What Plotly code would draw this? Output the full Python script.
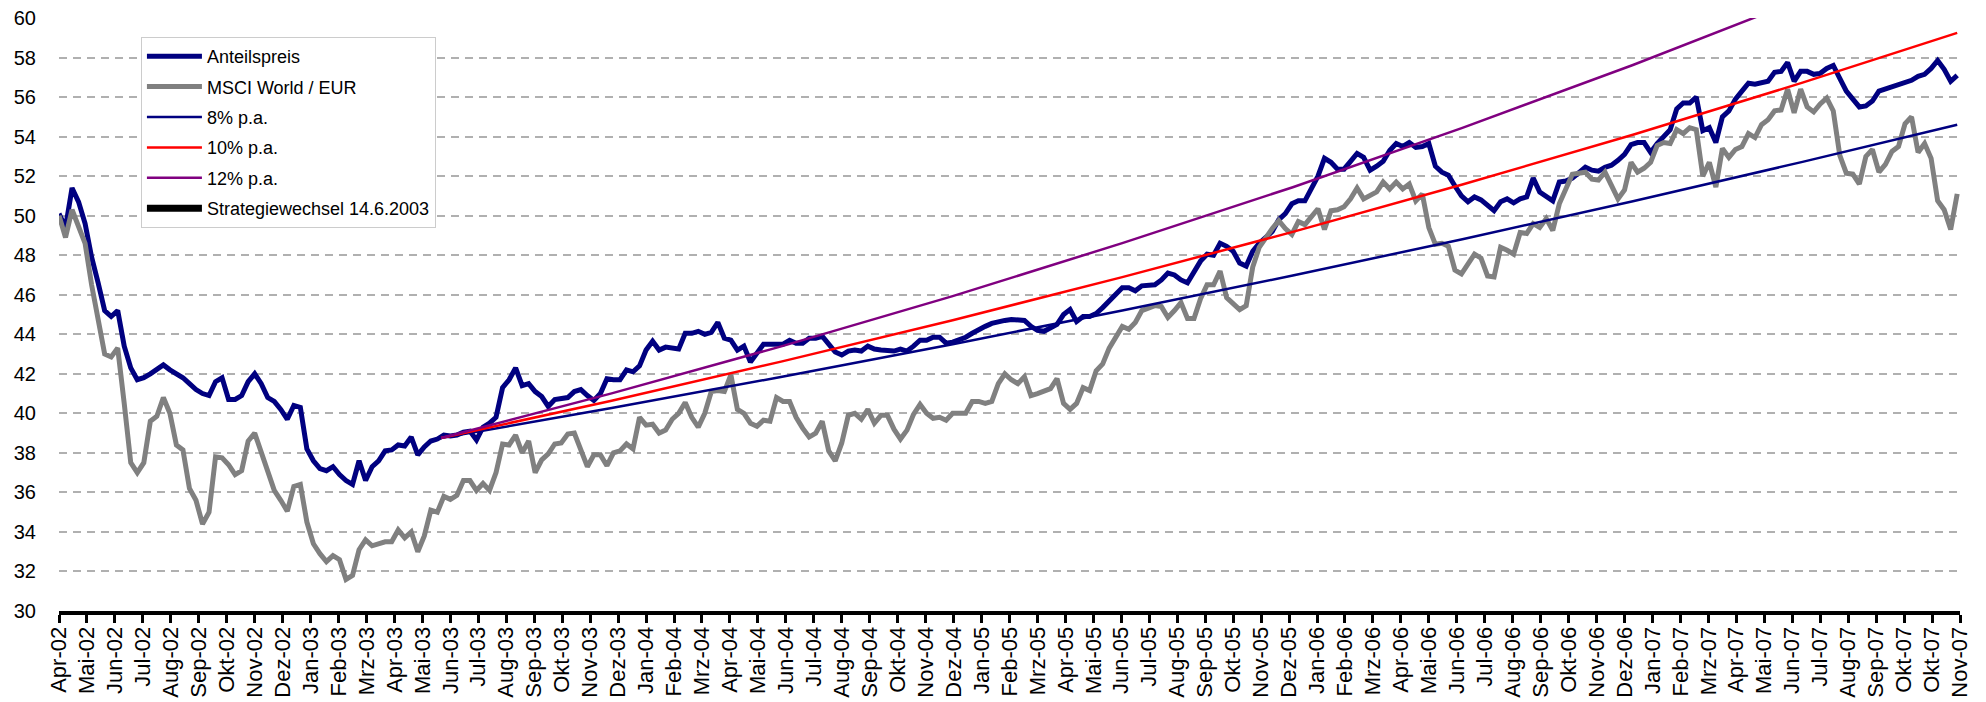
import pandas as pd
import plotly.graph_objects as go

# ---------------- data (weekly values) ----------------
start_date = "2002-04-30"

anteilspreis = [
    50.1, 49.4, 51.4, 50.7, 49.6, 47.9, 46.6, 45.2, 44.9, 45.2,
    43.4, 42.3, 41.7, 41.8, 42.0, 42.2, 42.45, 42.2, 42.0, 41.8,
    41.5, 41.2, 41.0, 40.9, 41.6, 41.8, 40.7, 40.7, 40.9, 41.6,
    42.0, 41.5, 40.8, 40.6, 40.2, 39.7, 40.4, 40.3, 38.2, 37.6,
    37.2, 37.1, 37.3, 36.9, 36.6, 36.4, 37.6, 36.6, 37.3, 37.6,
    38.1, 38.15, 38.4, 38.35, 38.8, 37.9, 38.3, 38.6, 38.7, 38.9,
    38.85, 38.9, 39.05, 39.1, 38.65, 39.3, 39.5, 39.8, 41.3, 41.7,
    42.3, 41.4, 41.5, 41.1, 40.85, 40.35, 40.7, 40.75, 40.8, 41.1,
    41.2, 40.9, 40.65, 41.0, 41.75, 41.7, 41.7, 42.2, 42.1, 42.4,
    43.2, 43.65, 43.2, 43.35, 43.3, 43.25, 44.05, 44.05, 44.15, 44.0,
    44.1, 44.6, 43.8, 43.7, 43.2, 43.4, 42.6, 43.1, 43.5, 43.5,
    43.48, 43.5, 43.7, 43.55, 43.55, 43.8, 43.8, 43.9, 43.5, 43.1,
    42.95, 43.15, 43.2, 43.15, 43.4, 43.25, 43.2, 43.2, 43.15, 43.25,
    43.15, 43.4, 43.7, 43.7, 43.85, 43.85, 43.55, 43.6, 43.7, 43.85,
    44.05, 44.25, 44.4, 44.55, 44.65, 44.7, 44.75, 44.75, 44.7, 44.4,
    44.2, 44.15, 44.3, 44.5, 45.0, 45.25, 44.65, 44.9, 44.9, 45.05,
    45.35, 45.7, 46.0, 46.35, 46.35, 46.2, 46.45, 46.45, 46.5, 46.75,
    47.1, 47.0, 46.75, 46.6, 47.2, 47.7, 48.05, 48.0, 48.6, 48.45,
    48.2, 47.6, 47.45, 48.2, 48.6, 48.9, 49.2, 49.8, 50.1, 50.6,
    50.75, 50.75, 51.35, 52.0, 52.9, 52.7, 52.35, 52.35, 52.75, 53.15,
    52.95, 52.3, 52.5, 52.75, 53.3, 53.65, 53.5, 53.7, 53.45, 53.5,
    53.65, 52.5, 52.2, 52.05, 51.5, 51.0, 50.7, 50.95, 50.8, 50.5,
    50.25, 50.7, 50.85, 50.65, 50.85, 50.95, 51.9, 51.2, 51.0, 50.75,
    51.7, 51.75, 51.9, 52.2, 52.45, 52.3, 52.25, 52.45, 52.55, 52.8,
    53.1, 53.6, 53.7, 53.7, 53.2, 53.65, 54.0, 54.35, 55.4, 55.7,
    55.7, 56.0, 54.3, 54.45, 53.7, 55.0, 55.3, 55.9, 56.3, 56.7,
    56.65, 56.7, 56.8, 57.25, 57.3, 57.75, 56.8, 57.3, 57.3, 57.15,
    57.2, 57.45, 57.6, 56.95, 56.3, 55.9, 55.5, 55.55, 55.8, 56.3,
    56.4, 56.55, 56.6, 56.7, 56.85, 57.05, 57.15, 57.45, 57.85, 57.4,
    56.8, 57.1,
]

msci_world_eur = [
    50.0, 48.9, 50.3, 49.5, 48.6, 46.5, 44.6, 43.0, 42.85, 43.3,
    40.5, 37.5, 37.0, 37.5, 39.6, 39.85, 40.8, 40.0, 38.4, 38.15,
    36.2, 35.6, 34.4, 35.0, 37.8, 37.75, 37.4, 36.9, 37.1, 38.6,
    39.0, 38.0, 36.9, 36.1, 35.6, 35.05, 36.3, 36.4, 34.5, 33.4,
    32.9, 32.5, 32.8, 32.6, 31.6, 31.8, 33.1, 33.6, 33.3, 33.4,
    33.5, 33.5, 34.1, 33.7, 34.0, 33.0, 33.8, 35.1, 35.0, 35.8,
    35.65, 35.85, 36.6, 36.6, 36.1, 36.45, 36.1, 37.0, 38.45, 38.4,
    38.9, 38.0, 38.6, 37.0, 37.65, 37.95, 38.45, 38.5, 38.95, 39.0,
    38.2, 37.3, 37.9, 37.9, 37.35, 38.0, 38.1, 38.45, 38.2, 39.8,
    39.4, 39.45, 39.0, 39.15, 39.7, 40.0, 40.55, 39.8, 39.3, 40.0,
    41.1, 41.15, 41.1, 41.95, 40.2, 40.0, 39.5, 39.35, 39.65, 39.6,
    40.8, 40.6, 40.6, 39.8, 39.25, 38.8, 39.0, 39.6, 38.1, 37.6,
    38.5, 39.9, 40.0, 39.7, 40.2, 39.5, 39.9, 39.9, 39.2, 38.7,
    39.15, 39.95, 40.45, 40.0, 39.75, 39.8, 39.65, 40.0, 40.0, 40.0,
    40.6, 40.6, 40.5, 40.6, 41.5, 42.0, 41.7, 41.5, 41.85, 40.9,
    41.0, 41.15, 41.25, 41.75, 40.5, 40.2, 40.5, 41.3, 41.15, 42.15,
    42.5, 43.3, 43.9, 44.4, 44.25, 44.6, 45.2, 45.35, 45.45, 45.4,
    44.85, 45.2, 45.6, 44.8, 44.8, 45.8, 46.5, 46.5, 47.2, 45.85,
    45.55, 45.25, 45.45, 47.4, 48.4, 48.9, 49.35, 49.75, 49.35, 49.05,
    49.7, 49.55, 50.0, 50.35, 49.3, 50.25, 50.3, 50.45, 50.85, 51.4,
    50.85, 51.05, 51.2, 51.7, 51.35, 51.7, 51.35, 51.6, 50.75, 51.1,
    49.4, 48.55, 48.6, 48.45, 47.25, 47.05, 47.55, 48.05, 47.85, 46.95,
    46.9, 48.4, 48.25, 48.05, 49.15, 49.1, 49.6, 49.4, 49.85, 49.25,
    50.6, 51.3, 52.1, 52.15, 52.2, 51.85, 51.8, 52.2, 51.5, 50.85,
    51.3, 52.7, 52.2, 52.4, 52.7, 53.55, 53.7, 53.65, 54.35, 54.15,
    54.45, 54.35, 52.0, 52.7, 51.45, 53.4, 52.95, 53.35, 53.5, 54.15,
    53.95, 54.6, 54.85, 55.3, 55.35, 56.4, 55.2, 56.4, 55.5, 55.25,
    55.65, 55.95, 55.3, 53.05, 52.15, 52.1, 51.6, 53.0, 53.35, 52.2,
    52.6, 53.25, 53.5, 54.65, 55.0, 53.2, 53.65, 52.9, 50.75, 50.3,
    49.3, 51.1,
]

# reference lines from the strategy change (read at half-year points)
trend_dates = ["2003-06-14", "2003-12-14", "2004-06-14", "2004-12-14", "2005-06-14",
               "2005-12-14", "2006-06-14", "2006-12-14", "2007-06-14", "2007-11-27"]
trend_8 = [38.75, 40.27, 41.85, 43.50, 45.20, 46.97, 48.81, 50.73, 52.72, 54.60]
trend_10 = [38.75, 40.64, 42.63, 44.71, 46.89, 49.18, 51.58, 54.09, 56.73, 59.25]
trend_12 = [38.75, 41.01, 43.40, 45.93, 48.61, 51.44, 54.44, 57.62, 60.97, 64.20]

tick_labels = [
    "Apr-02", "Mai-02", "Jun-02", "Jul-02", "Aug-02", "Sep-02", "Okt-02", "Nov-02", "Dez-02",
    "Jan-03", "Feb-03", "Mrz-03", "Apr-03", "Mai-03", "Jun-03", "Jul-03", "Aug-03", "Sep-03",
    "Okt-03", "Nov-03", "Dez-03", "Jan-04", "Feb-04", "Mrz-04", "Apr-04", "Mai-04", "Jun-04",
    "Jul-04", "Aug-04", "Sep-04", "Okt-04", "Nov-04", "Dez-04", "Jan-05", "Feb-05", "Mrz-05",
    "Apr-05", "Mai-05", "Jun-05", "Jul-05", "Aug-05", "Sep-05", "Okt-05", "Nov-05", "Dez-05",
    "Jan-06", "Feb-06", "Mrz-06", "Apr-06", "Mai-06", "Jun-06", "Jul-06", "Aug-06", "Sep-06",
    "Okt-06", "Nov-06", "Dez-06", "Jan-07", "Feb-07", "Mrz-07", "Apr-07", "Mai-07", "Jun-07",
    "Jul-07", "Aug-07", "Sep-07", "Okt-07", "Okt-07", "Nov-07",
]
tick_step_days = 30
week_days = 7

# ---------------- derived x values ----------------
t0 = pd.Timestamp(start_date)
dates = [t0 + pd.Timedelta(days=week_days * i) for i in range(len(anteilspreis))]
tick_vals = [t0 + pd.Timedelta(days=tick_step_days * k) for k in range(len(tick_labels))]
x_end = tick_vals[-1]

FONT = "'Liberation Sans', Arial, sans-serif"

fig = go.Figure()

fig.add_trace(go.Scatter(x=dates, y=anteilspreis, mode="lines", name="Anteilspreis",
                         line=dict(color="#000080", width=5), legendgroup="a"))
fig.add_trace(go.Scatter(x=dates, y=msci_world_eur, mode="lines", name="MSCI World / EUR",
                         line=dict(color="#808080", width=5), legendgroup="b"))
fig.add_trace(go.Scatter(x=trend_dates, y=trend_8, mode="lines", name="8% p.a.",
                         line=dict(color="#000080", width=2.5), legendgroup="c"))
fig.add_trace(go.Scatter(x=trend_dates, y=trend_10, mode="lines", name="10% p.a.",
                         line=dict(color="#FF0000", width=2.5), legendgroup="d"))
fig.add_trace(go.Scatter(x=trend_dates, y=trend_12, mode="lines", name="12% p.a.",
                         line=dict(color="#800080", width=2.5), legendgroup="e"))
fig.add_trace(go.Scatter(x=[None], y=[None], mode="lines", name="Strategiewechsel 14.6.2003",
                         line=dict(color="#000000", width=7), legendgroup="f"))

fig.update_layout(
    width=1986, height=702,
    margin=dict(l=59, r=26, t=18, b=91, autoexpand=False),
    paper_bgcolor="white", plot_bgcolor="white",
    font=dict(family=FONT, color="black"),
    legend=dict(
        x=0.0431, y=0.968, xanchor="left", yanchor="top",
        bgcolor="white", bordercolor="#cccccc", borderwidth=1,
        font=dict(family=FONT, size=18, color="black"),
        tracegroupgap=4, itemwidth=55,
    ),
    showlegend=True,
)

fig.update_xaxes(
    type="date", range=[t0, x_end], automargin=False,
    tickmode="array", tickvals=tick_vals, ticktext=tick_labels,
    tickangle=-90, tickfont=dict(family=FONT, size=22, color="black"),
    ticks="outside", ticklen=8, tickwidth=3, tickcolor="black",
    ticklabelstandoff=-5,
    showline=True, linewidth=4, linecolor="black",
    showgrid=False, zeroline=False,
)
fig.update_yaxes(
    range=[30, 60], dtick=2, tick0=30, automargin=False,
    tickfont=dict(family=FONT, size=20, color="black"),
    showgrid=True, gridcolor="#b0b0b0", gridwidth=1.5, griddash="8px,6px",
    showline=False, zeroline=False, ticks="", ticklabelstandoff=22,
)

# the page's default body margin would shift the whole figure by 8px
fig.write_html("out.html", config={"displayModeBar": False},
               post_script="document.body.style.margin='0';")
